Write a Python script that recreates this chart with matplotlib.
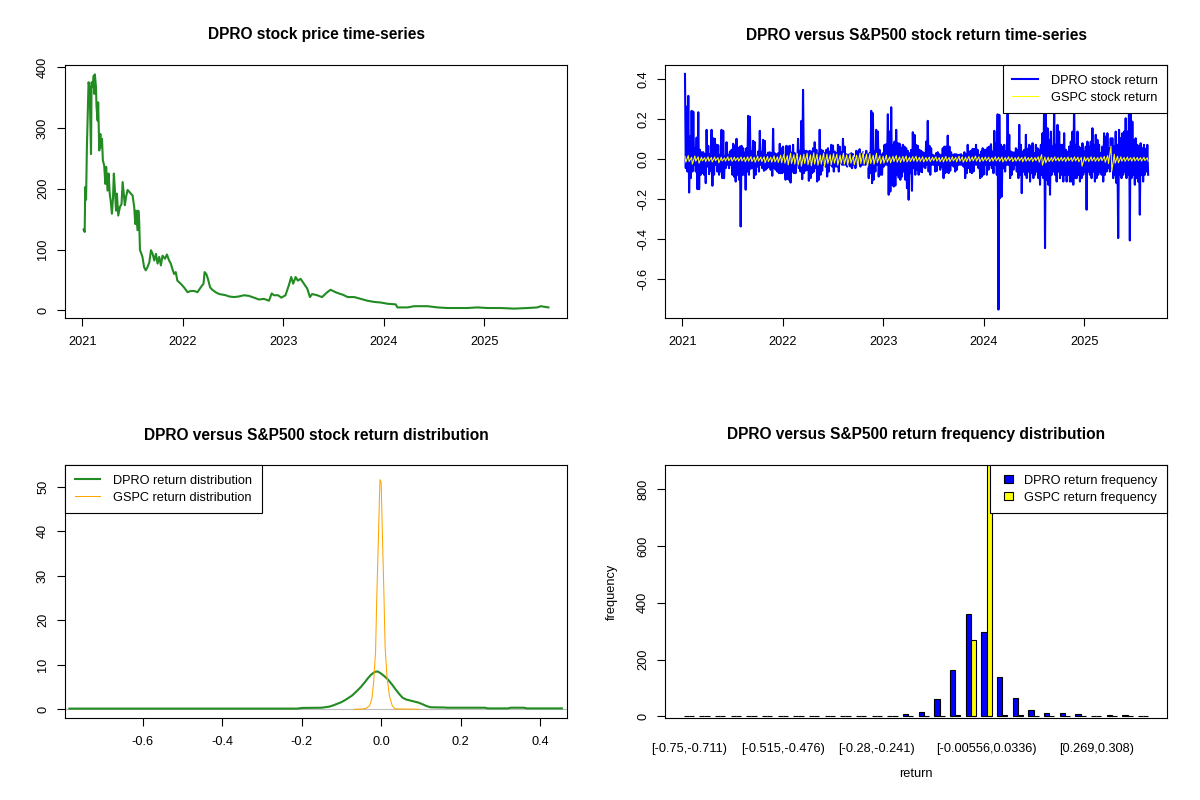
import numpy as np
import pandas as pd
import matplotlib
matplotlib.use('Agg')
import matplotlib.pyplot as plt
import matplotlib.dates as mdates
from matplotlib.lines import Line2D
from matplotlib.patches import Patch, Rectangle
from matplotlib.legend_handler import HandlerPatch
from matplotlib.ticker import FormatStrFormatter

plt.rcParams['font.family'] = ['Liberation Sans', 'DejaVu Sans']
plt.rcParams['font.size'] = 9.2
plt.rcParams['axes.unicode_minus'] = False

# ---- DPRO closing price (days after 2021-01-01, price) ----
price_day = [4, 8, 10, 13, 16, 22, 26, 31, 33, 37, 41, 43, 45, 49, 51, 55, 57, 61, 65, 67,
             71, 74, 79, 83, 86, 91, 95, 99, 103, 107, 111, 114, 118, 122, 125, 130, 136, 142, 146, 149,
             154, 158, 164, 170, 176, 182, 188, 192, 195, 200, 203, 206, 209, 212, 218, 224, 230, 236, 243, 249,
             255, 261, 267, 273, 279, 285, 291, 300, 307, 315, 321, 327, 333, 339, 345, 357, 369, 382, 394, 406,
             418, 430, 440, 444, 450, 456, 464, 472, 484, 497, 509, 521, 533, 551, 569, 587, 605, 623, 642, 660,
             678, 688, 696, 711, 723, 738, 750, 759, 766, 775, 783, 793, 805, 817, 827, 835, 853, 871, 890, 902,
             920, 938, 946, 964, 988, 1012, 1036, 1061, 1085, 1109, 1139, 1145, 1182, 1206, 1254, 1291, 1327, 1364, 1400, 1436,
             1473, 1521, 1569, 1618, 1654, 1666, 1694]
price_val = [133, 129, 203, 182, 268, 375, 367, 257, 375, 367, 386, 356, 388, 367, 335, 312, 342, 263, 290, 268,
             282, 247, 238, 208, 236, 197, 225, 192, 178, 159, 186, 225, 197, 164, 192, 156, 170, 175, 211, 197,
             173, 186, 198, 195, 192, 189, 170, 142, 164, 132, 164, 148, 99, 96, 88, 71, 66, 71, 79, 99,
             93, 82, 93, 77, 88, 74, 90, 85, 92, 82, 77, 68, 60, 63, 49, 44, 38, 30, 32, 32,
             30, 38, 44, 63, 60, 52, 38, 34, 30, 27, 26, 25, 23, 22, 23, 25, 24, 21, 18, 19,
             16, 28, 25, 25, 21, 25, 41, 55, 44, 55, 49, 52, 44, 36, 22, 27, 25, 22, 30, 34,
             30, 27, 26, 22, 22, 19, 16, 14, 13, 11, 10, 5, 5, 7, 7, 5, 4, 4, 4, 5,
             4, 4, 3, 4, 5, 7, 5]

# ---- daily log returns, read as (high, low) per ~6-day column ----
dpro_hi = [0.427, 0.263, 0.317, 0.113, 0.242, 0.238, 0.055, 0.108, 0.235, 0.047, 0.035, 0.035, 0.025, 0.147, 0.067,
           0.025, 0.147, 0.105, 0.102, 0.072, 0.070, 0.022, 0.147, 0.142, 0.013, 0.085, 0.022, 0.038, 0.047, 0.077,
           0.068, 0.102, 0.055, 0.063, 0.067, 0.055, 0.033, 0.055, 0.217, 0.213, 0.038, 0.092, 0.085, 0.013, 0.038,
           0.142, 0.035, 0.097, 0.092, 0.022, 0.033, 0.035, 0.030, 0.152, 0.030, 0.025, 0.030, 0.077, 0.055, 0.063,
           0.018, 0.067, 0.063, 0.067, 0.033, 0.072, 0.030, 0.013, 0.102, 0.042, 0.192, 0.347, 0.042, 0.042, 0.038,
           0.042, 0.038, 0.055, 0.085, 0.047, 0.027, 0.147, 0.047, 0.042, 0.030, 0.047, 0.055, 0.038, 0.072, 0.068,
           0.038,
           0.030, 0.072, 0.063, 0.035, 0.102, 0.063, 0.025, 0.022, 0.025, 0.030, 0.025, 0.005, 0.042, 0.038, 0.050,
           0.025, 0.035, 0.022, 0.042, 0.022, 0.030, 0.242, 0.230, 0.038, 0.147, 0.138, 0.047, 0.022, 0.030, 0.072,
           0.075, 0.225, 0.138, 0.260, 0.072, 0.088, 0.147, 0.080, 0.078, 0.055, 0.072, 0.063, 0.055, 0.042, 0.030,
           0.047, 0.135, 0.122, 0.072, 0.067, 0.047, 0.042, 0.035, 0.030, 0.088, 0.192, 0.067, 0.055, 0.022, 0.018,
           0.030, 0.035, 0.025, 0.018, 0.055, 0.063, 0.063, 0.118, 0.063, 0.035, 0.022, 0.025, 0.025, 0.022, 0.022,
           0.025, 0.018, 0.035, 0.025, 0.072, 0.038, 0.042, 0.052, 0.050, 0.072, 0.047, 0.022, 0.038, 0.055, 0.047,
           0.047, 0.058, 0.063, 0.075, 0.038, 0.142, 0.080, 0.225, 0.222,
           0.072, 0.063, 0.072, 0.038, 0.280, 0.122, 0.038, 0.035, 0.033, 0.055, 0.047, 0.172, 0.072, 0.038, 0.047,
           0.122, 0.052, 0.072, 0.063, 0.080, 0.030, 0.072, 0.055, 0.047, 0.072, 0.130, 0.330, 0.230, 0.155, 0.097,
           0.138, 0.063, 0.260, 0.072, 0.172, 0.138, 0.072, 0.072, 0.130, 0.047, 0.038, 0.063, 0.088, 0.138, 0.300,
           0.072, 0.138, 0.063, 0.055, 0.080, 0.038, 0.063, 0.088, 0.063, 0.088, 0.155, 0.072, 0.122, 0.097, 0.072,
           0.030, 0.063, 0.130, 0.113, 0.130, 0.055, 0.105, 0.105, 0.063, 0.138, 0.072, 0.147, 0.105, 0.130, 0.138,
           0.205, 0.138, 0.280, 0.320, 0.188, 0.097, 0.105, 0.072, 0.063, 0.080, 0.055, 0.072, 0.052, 0.072]
dpro_lo = [-0.045, -0.062, -0.167, -0.095, -0.062, -0.028, -0.062, -0.150, -0.150, -0.078, -0.070, -0.078, -0.120, -0.037, -0.075,
           -0.058, -0.133, -0.078, -0.028, -0.062, -0.078, -0.062, -0.095, -0.095, -0.045, -0.028, -0.045, -0.028, -0.078, -0.087,
           -0.112, -0.078, -0.103, -0.337, -0.078, -0.078, -0.153, -0.062, -0.078, -0.048, -0.045, -0.095, -0.078, -0.037, -0.062,
           -0.028, -0.045, -0.058, -0.053, -0.045, -0.037, -0.053, -0.083, -0.045, -0.053, -0.062, -0.070, -0.070, -0.070, -0.062,
           -0.103, -0.098, -0.103, -0.117, -0.062, -0.070, -0.070, -0.028, -0.045, -0.062, -0.100, -0.070, -0.058, -0.053, -0.108,
           -0.095, -0.070, -0.062, -0.045, -0.112, -0.103, -0.078, -0.058, -0.028, -0.037, -0.087, -0.062, -0.028, -0.037, -0.062,
           -0.037,
           -0.037, -0.062, -0.020, -0.028, -0.028, -0.028, -0.037, -0.025, -0.037, -0.045, -0.028, -0.045, -0.028, -0.012, -0.037,
           -0.028, -0.028, -0.028, -0.025, -0.095, -0.070, -0.120, -0.103, -0.062, -0.028, -0.087, -0.078, -0.078, -0.037, -0.028,
           -0.028, -0.178, -0.162, -0.128, -0.137, -0.132, -0.078, -0.092, -0.103, -0.087, -0.062, -0.103, -0.145, -0.203, -0.070,
           -0.158, -0.045, -0.078, -0.053, -0.078, -0.062, -0.065, -0.037, -0.045, -0.028, -0.062, -0.078, -0.028, -0.028, -0.062,
           -0.058, -0.028, -0.053, -0.037, -0.095, -0.070, -0.062, -0.070, -0.058, -0.028, -0.037, -0.062, -0.053, -0.028, -0.028,
           -0.028, -0.037, -0.095, -0.070, -0.045, -0.065, -0.070, -0.062, -0.028, -0.028, -0.045, -0.095, -0.087, -0.078, -0.028,
           -0.078, -0.053, -0.028, -0.045, -0.070, -0.028, -0.078, -0.753, -0.195,
           -0.187, -0.045, -0.062, -0.028, -0.028, -0.095, -0.078, -0.053, -0.028, -0.062, -0.095, -0.078, -0.170, -0.062, -0.078,
           -0.095, -0.062, -0.112, -0.070, -0.095, -0.078, -0.062, -0.095, -0.128, -0.078, -0.095, -0.445, -0.103, -0.128, -0.178,
           -0.078, -0.062, -0.078, -0.112, -0.062, -0.095, -0.078, -0.112, -0.078, -0.112, -0.078, -0.112, -0.112, -0.128, -0.095,
           -0.095, -0.078, -0.112, -0.095, -0.078, -0.062, -0.253, -0.062, -0.078, -0.095, -0.062, -0.112, -0.095, -0.078, -0.062,
           -0.078, -0.112, -0.078, -0.062, -0.045, -0.062, -0.045, -0.095, -0.078, -0.120, -0.395, -0.078, -0.095, -0.078, -0.062,
           -0.095, -0.078, -0.407, -0.095, -0.078, -0.128, -0.095, -0.112, -0.278, -0.078, -0.112, -0.078, -0.062, -0.078]
gspc_hi = [0.014, 0.018, 0.010, 0.016, 0.012, 0.010, 0.008, 0.012, 0.009, 0.011, 0.008, 0.010, 0.007, 0.012, 0.009,
           0.010, 0.008, 0.011, 0.009, 0.012, 0.013, 0.010, 0.015, 0.011, 0.012, 0.014, 0.010, 0.016, 0.012, 0.020,
           0.025, 0.018, 0.030, 0.022, 0.028, 0.020, 0.025, 0.030, 0.022, 0.032, 0.026, 0.020, 0.030, 0.025, 0.022,
           0.028,
           0.025, 0.020, 0.030, 0.022, 0.026, 0.018, 0.020, 0.030, 0.035, 0.025, 0.028, 0.020, 0.030, 0.018, 0.015,
           0.020, 0.012, 0.015, 0.018, 0.012, 0.014, 0.016, 0.010, 0.013, 0.015, 0.010, 0.012, 0.009, 0.011, 0.010,
           0.012, 0.008, 0.010, 0.014, 0.009, 0.012, 0.010, 0.015, 0.012, 0.010, 0.014, 0.011, 0.016, 0.012, 0.009,
           0.011, 0.010, 0.008, 0.012, 0.010,
           0.011, 0.009, 0.012, 0.010, 0.008, 0.011, 0.009, 0.012, 0.008, 0.010, 0.009, 0.012, 0.023, 0.011, 0.010,
           0.009, 0.012, 0.008, 0.010, 0.009, 0.011, 0.008, 0.012, 0.010, 0.009, 0.011, 0.008, 0.012, 0.010, 0.009,
           0.011, 0.014, 0.018, 0.065, 0.025, 0.015, 0.012, 0.009, 0.011, 0.008, 0.010, 0.009, 0.008, 0.010, 0.007]
gspc_lo = [-0.015, -0.012, -0.025, -0.010, -0.020, -0.008, -0.012, -0.010, -0.014, -0.008, -0.018, -0.009, -0.010, -0.008, -0.011,
           -0.008, -0.010, -0.009, -0.013, -0.010, -0.012, -0.015, -0.010, -0.012, -0.018, -0.012, -0.015, -0.014, -0.016, -0.018,
           -0.020, -0.028, -0.022, -0.025, -0.030, -0.035, -0.022, -0.028, -0.033, -0.025, -0.030, -0.025, -0.036, -0.022, -0.028,
           -0.020,
           -0.030, -0.022, -0.025, -0.030, -0.020, -0.028, -0.033, -0.022, -0.025, -0.040, -0.022, -0.025, -0.018, -0.022, -0.020,
           -0.015, -0.018, -0.012, -0.015, -0.016, -0.012, -0.014, -0.012, -0.010, -0.012, -0.011, -0.014, -0.010, -0.012, -0.008,
           -0.010, -0.012, -0.014, -0.010, -0.012, -0.009, -0.013, -0.010, -0.015, -0.012, -0.011, -0.009, -0.010, -0.013, -0.010,
           -0.008, -0.012, -0.010, -0.009, -0.011,
           -0.014, -0.010, -0.008, -0.012, -0.010, -0.009, -0.013, -0.010, -0.009, -0.012, -0.008, -0.015, -0.030, -0.018, -0.012,
           -0.011, -0.008, -0.010, -0.009, -0.012, -0.008, -0.011, -0.009, -0.013, -0.035, -0.010, -0.012, -0.009, -0.011, -0.010,
           -0.008, -0.015, -0.022, -0.060, -0.020, -0.018, -0.010, -0.011, -0.008, -0.010, -0.009, -0.008, -0.010, -0.007, -0.009]
ret_first, ret_last = '2021-01-10', '2025-08-18'

# ---- kernel density curves (return, density) ----
dpro_dx = [-0.785, -0.60, -0.40, -0.21, -0.20, -0.15, -0.13, -0.12, -0.10, -0.09, -0.073, -0.06, -0.051, -0.04,
           -0.034, -0.025, -0.016, -0.009, -0.003, 0.003, 0.010, 0.019, 0.028, 0.037, 0.045, 0.054, 0.063, 0.072,
           0.085, 0.094, 0.105, 0.115, 0.125, 0.16, 0.165, 0.262, 0.268, 0.32, 0.326, 0.36, 0.366, 0.455]
dpro_dy = [0.15, 0.15, 0.15, 0.15, 0.3, 0.35, 0.6, 0.9, 1.6, 2.1, 3.1, 4.2, 5.0, 6.2,
           6.9, 7.8, 8.4, 8.5, 8.2, 7.8, 7.3, 6.5, 5.5, 4.4, 3.5, 2.6, 2.2, 2.0,
           1.7, 1.5, 1.1, 0.7, 0.45, 0.4, 0.35, 0.35, 0.2, 0.2, 0.35, 0.35, 0.2, 0.2]
gspc_dx = [-0.068, -0.05, -0.038, -0.029, -0.023, -0.019, -0.014, -0.011, -0.007, -0.003, 0.0, 0.003,
           0.007, 0.010, 0.015, 0.021, 0.028, 0.035, 0.06, 0.095]
gspc_dy = [0.0, 0.05, 0.2, 0.8, 2.5, 6.0, 13.0, 25.0, 38.0, 51.6, 51.0, 40.0,
           26.0, 14.0, 7.0, 3.0, 0.8, 0.1, 0.05, 0.0]

# ---- return frequency per bin ----
dpro_freq = [1, 0, 0, 0, 0, 0, 0, 1, 1, 1, 1, 1, 1, 2, 8,
             15, 60, 162, 360, 297, 138, 63, 22, 12, 12, 8, 1, 3, 3, 1]
gspc_freq = [0, 0, 0, 0, 0, 0, 0, 0, 0, 0, 0, 0, 0, 0, 0,
             0, 0, 3, 269, 890, 3, 3, 0, 0, 0, 0, 0, 0, 0, 0]
bin_label_at = [0, 6, 12, 19, 26]
bin_labels = ['[-0.75,-0.711)', '[-0.515,-0.476)', '[-0.28,-0.241)', '[-0.00556,0.0336)', '[0.269,0.308)']

W, H = 1200, 800
fig = plt.figure(figsize=(12, 8), dpi=100)


def place(l, t, r, b):
    return fig.add_axes([l / W, 1 - b / H, (r - l) / W, (b - t) / H])


def r_axes(ax, title):
    for s in ax.spines.values():
        s.set_linewidth(0.8)
    ax.tick_params(direction='out', length=5.5, width=0.8, colors='black')
    ax.tick_params(axis='x', pad=7.5)
    ax.tick_params(axis='y', pad=6, labelrotation=90)
    for lbl in ax.get_yticklabels():
        lbl.set_va('center')
    ax.text(0.5, 1 + 30 / 253, title, transform=ax.transAxes, ha='center', va='center',
            fontsize=11.2, fontweight='bold')


def small_square(legend, orig_handle, xdescent, ydescent, width, height, fontsize):
    s = 6.0
    return Rectangle((-xdescent + (width - s) / 2, -ydescent + (height - s) / 2), s, s)


def r_legend(ax, handles, labels, loc, **kw):
    opts = dict(loc=loc, borderaxespad=0, fancybox=False, framealpha=1, edgecolor='black',
                labelspacing=0.4, borderpad=0.75, handletextpad=1.0)
    opts.update(kw)
    leg = ax.legend(handles, labels, **opts)
    leg.get_frame().set_linewidth(0.8)
    leg.set_zorder(10)
    return leg


# top-left: price
ax1 = place(65, 65, 567, 318)
pdates = pd.Timestamp('2021-01-01') + pd.to_timedelta(price_day, unit='D')
ax1.plot(pdates, price_val, color='forestgreen', lw=1.5)
ax1.margins(x=0.04, y=0.04)
ax1.set_yticks([0, 100, 200, 300, 400])
ax1.xaxis.set_major_locator(mdates.YearLocator())
ax1.xaxis.set_major_formatter(mdates.DateFormatter('%Y'))
r_axes(ax1, 'DPRO stock price time-series')

# top-right: returns
ax2 = place(665, 65, 1167, 318)
d_cols = pd.date_range(ret_first, ret_last, periods=len(dpro_hi))
d_t = np.ravel(np.column_stack([d_cols.values, (d_cols + pd.Timedelta(days=3)).values]))
d_v = np.ravel(np.column_stack([dpro_hi, dpro_lo]))
g_cols = pd.date_range(ret_first, ret_last, periods=len(gspc_hi))
g_t = np.ravel(np.column_stack([g_cols.values, (g_cols + pd.Timedelta(days=3)).values]))
g_v = np.ravel(np.column_stack([gspc_hi, gspc_lo]))
ax2.plot(d_t, d_v, color='blue', lw=1.5)
ax2.plot(g_t, g_v, color='yellow', lw=0.75)
ax2.set_xlim(ax1.get_xlim())
ax2.set_ylim(-0.795, 0.4715)
ax2.set_yticks([-0.6, -0.4, -0.2, 0.0, 0.2, 0.4])
ax2.yaxis.set_major_formatter(FormatStrFormatter('%.1f'))
ax2.xaxis.set_major_locator(mdates.YearLocator())
ax2.xaxis.set_major_formatter(mdates.DateFormatter('%Y'))
r_axes(ax2, 'DPRO versus S&P500 stock return time-series')
r_legend(ax2, [Line2D([], [], color='blue', lw=1.5), Line2D([], [], color='yellow', lw=0.75)],
         ['DPRO stock return', 'GSPC stock return'], 'upper right')

# bottom-left: density
ax3 = place(65, 465, 567, 718)
ax3.axhline(0, color='#bebebe', lw=0.8)
ax3.plot(dpro_dx, dpro_dy, color='forestgreen', lw=1.5)
ax3.plot(gspc_dx, gspc_dy, color='orange', lw=0.75)
ax3.set_xlim(-0.796, 0.468)
ax3.set_ylim(-1.96, 54.9)
ax3.set_xticks([-0.6, -0.4, -0.2, 0.0, 0.2, 0.4])
ax3.xaxis.set_major_formatter(FormatStrFormatter('%.1f'))
ax3.set_yticks([0, 10, 20, 30, 40, 50])
r_axes(ax3, 'DPRO versus S&P500 stock return distribution')
r_legend(ax3, [Line2D([], [], color='forestgreen', lw=1.5), Line2D([], [], color='orange', lw=0.75)],
         ['DPRO return distribution', 'GSPC return distribution'], 'upper left')

# bottom-right: frequency bars
ax4 = place(665, 465, 1167, 718)
grp = 2 + 3 * np.arange(len(dpro_freq))
ax4.bar(grp - 0.5, dpro_freq, width=1, color='blue', edgecolor='black', lw=0.8)
ax4.bar(grp + 0.5, gspc_freq, width=1, color='yellow', edgecolor='black', lw=0.8)
ax4.margins(x=0.04)
ax4.set_ylim(-6, 886)
ax4.set_yticks([0, 200, 400, 600, 800])
ax4.set_xticks(grp[bin_label_at])
ax4.set_xticklabels(bin_labels)
r_axes(ax4, 'DPRO versus S&P500 return frequency distribution')
ax4.tick_params(axis='x', length=0, pad=18)
ax4.set_xlabel('return')
ax4.xaxis.set_label_coords(0.5, -50 / 253)
ax4.set_ylabel('frequency')
ax4.yaxis.set_label_coords(-47 / 502, 0.5)
r_legend(ax4, [Patch(facecolor='blue', edgecolor='black', lw=0.8),
               Patch(facecolor='yellow', edgecolor='black', lw=0.8)],
         ['DPRO return frequency', 'GSPC return frequency'], 'upper right',
         handlelength=1.35, handletextpad=0.55,
         handler_map={Patch: HandlerPatch(patch_func=small_square)})

fig.savefig('out.png', dpi=100, facecolor='white')
